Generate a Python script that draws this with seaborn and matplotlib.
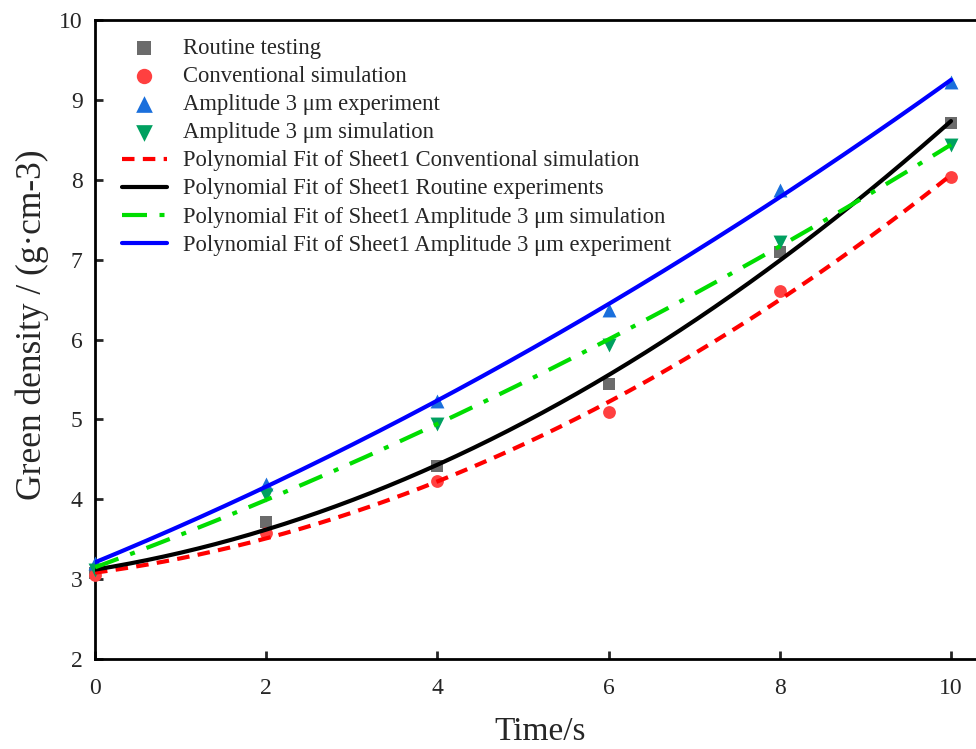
import numpy as np
import pandas as pd
import matplotlib
matplotlib.use("Agg")
import matplotlib.pyplot as plt
import seaborn as sns

time = [0, 2, 4, 6, 8, 10]
routine_testing = [3.08, 3.71, 4.42, 5.44, 7.09, 8.71]
conventional_sim = [3.05, 3.58, 4.23, 5.09, 6.61, 8.03]
amp3_experiment = [3.20, 4.19, 5.23, 6.37, 7.87, 9.22]
amp3_simulation = [3.12, 4.05, 4.94, 5.93, 7.22, 8.43]

sns.set_theme(style="ticks")
plt.rcParams['font.family'] = ['Liberation Serif', 'DejaVu Serif']

fig = plt.figure(figsize=(9.76, 7.49), dpi=100)
x0, x10 = 95, 951
ppu = (x10 - x0) / 10
xmax = 10.4
ax = fig.add_axes([x0 / 976, 1 - 659 / 749, (ppu * xmax) / 976, (659 - 20) / 749])

scatter_specs = [
    (routine_testing, "Routine testing", "s", "#6b6b6b", 80),
    (conventional_sim, "Conventional simulation", "o", "#ff4040", 85),
    (amp3_experiment, "Amplitude 3 μm experiment", "^", "#1a6fdc", 100),
    (amp3_simulation, "Amplitude 3 μm simulation", "v", "#00a060", 100),
]
for vals, lab, mk, col, sz in scatter_specs:
    sns.scatterplot(x=time, y=vals, marker=mk, color=col, s=sz, linewidth=0,
                    ax=ax, label=lab, zorder=3, clip_on=False)

xs = np.linspace(0, 10, 200)
fit_specs = [
    (conventional_sim, "Polynomial Fit of Sheet1 Conventional simulation", "#ff0000", (0, (3, 2))),
    (routine_testing, "Polynomial Fit of Sheet1 Routine experiments", "black", "-"),
    (amp3_simulation, "Polynomial Fit of Sheet1 Amplitude 3 μm simulation", "#00dd00", (0, (6, 3, 1.2, 3))),
    (amp3_experiment, "Polynomial Fit of Sheet1 Amplitude 3 μm experiment", "#0000ff", "-"),
]
for vals, lab, col, ls in fit_specs:
    c = np.polyfit(time, vals, 2)
    sns.lineplot(x=xs, y=np.polyval(c, xs), color=col, linestyle=ls, linewidth=3,
                 ax=ax, label=lab, zorder=4)

ax.set_xlim(0, xmax)
ax.set_ylim(2, 10)
ax.set_xticks([0, 2, 4, 6, 8, 10])
ax.set_yticks([2, 3, 4, 5, 6, 7, 8, 9, 10])
ax.tick_params(direction="in", length=6, width=2, labelsize=17)
ax.tick_params(axis="x", pad=14)
ax.tick_params(axis="y", pad=9)
for s in ax.spines.values():
    s.set_linewidth(2)
    s.set_color("black")
ax.set_xlabel("Time/s", fontsize=24, labelpad=12)
ax.set_ylabel("Green density / (g·cm-3)", fontsize=25.5)
bbox = ax.get_position()
fig_w, fig_h = 976, 749
ax.yaxis.set_label_coords((32 - 95) / (bbox.width * fig_w), (659 - 325) / (bbox.height * fig_h))
ax.yaxis.label.set_va("center")

leg = ax.legend(loc="upper left", bbox_to_anchor=(0.012, 0.996), frameon=False,
                fontsize=16.3, handlelength=2.0, handletextpad=0.7, labelspacing=0.31,
                borderaxespad=0.3, markerscale=1.2)

fig.savefig("out.png", dpi=100)
